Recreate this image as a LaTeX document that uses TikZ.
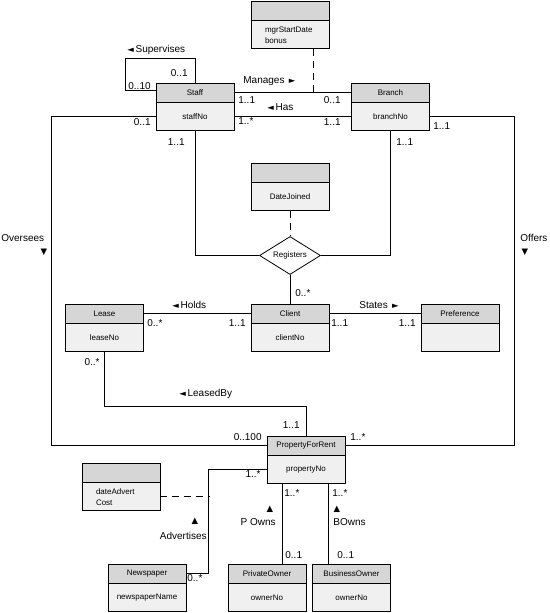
\documentclass[tikz,border=0pt]{standalone}
\usepackage{fontspec}
\setmainfont{Liberation Sans}
\newfontfamily\symfont{DejaVu Sans}
\usetikzlibrary{shapes.geometric}

\definecolor{headfill}{RGB}{214,214,214}
\definecolor{bodyfill}{RGB}{240,240,240}

\newcommand{\tril}{{\symfont\fontsize{8.5}{8}\selectfont ◄}}
\newcommand{\trir}{{\symfont\fontsize{8.5}{8}\selectfont ►}}
\newcommand{\triu}{{\symfont\fontsize{8.5}{8}\selectfont ▲}}
\newcommand{\trid}{{\symfont\fontsize{8.5}{8}\selectfont ▼}}

\tikzset{
    classhead/.style={draw, fill=headfill, minimum width=78pt, minimum height=19pt,
        inner sep=0pt, font=\fontsize{8}{9}\selectfont},
    classbody/.style={draw, fill=bodyfill, minimum width=78pt, minimum height=28pt,
        inner sep=0pt, anchor=north, font=\fontsize{8}{11}\selectfont},
    attrlist/.style={classbody, text width=50pt, align=left},
    mult/.style={inner sep=0pt, font=\fontsize{10}{12}\selectfont},
    assoc/.style={dash pattern=on 7pt off 5pt},
}

\begin{document}
\begin{tikzpicture}[x=1pt, y=-1pt, line width=0.8pt]
    \useasboundingbox (0,0) rectangle (549,613);

    % classes
    \node[classhead] (staff)  at (195,92.5)   {Staff};
    \node[classbody] (staff-a)  at (staff.south)  {staffNo};
    \node[classhead] (branch) at (390.5,92.5) {Branch};
    \node[classbody] (branch-a) at (branch.south) {branchNo};
    \node[classhead] (lease)  at (104.5,313.5) {Lease};
    \node[classbody] (lease-a)  at (lease.south)  {leaseNo};
    \node[classhead] (client) at (290,313.5)  {Client};
    \node[classbody] (client-a) at (client.south) {clientNo};
    \node[classhead] (pref)   at (460,313.5)  {Preference};
    \node[classbody] (pref-a)   at (pref.south)   {};
    \node[classhead] (pfr)    at (306,445.5)  {PropertyForRent};
    \node[classbody] (pfr-a)    at (pfr.south)    {propertyNo};
    \node[classhead] (news)   at (147,573.5)  {Newspaper};
    \node[classbody] (news-a)   at (news.south)   {newspaperName};
    \node[classhead] (powner) at (267,573.5)  {PrivateOwner};
    \node[classbody] (powner-a) at (powner.south) {ownerNo};
    \node[classhead] (bowner) at (351.5,573.5) {BusinessOwner};
    \node[classbody] (bowner-a) at (bowner.south) {ownerNo};

    % association classes
    \node[classhead] (mgr)  at (290,10.5)  {};
    \node[attrlist]  (mgr-a)  at (mgr.south)  {mgrStartDate\\bonus};
    \node[classhead] (date) at (290,172.5) {};
    \node[classbody] (date-a) at (date.south) {DateJoined};
    \node[classhead] (adv)  at (121,472.5) {};
    \node[attrlist]  (adv-a)  at (adv.south)  {dateAdvert\\Cost};

    \node[draw, diamond, aspect=1.6, minimum width=61pt, minimum height=38pt,
        inner sep=1pt, font=\fontsize{8}{9}\selectfont] (reg) at (290,255.5) {Registers};

    % Supervises
    \draw ([yshift=2pt]staff.west) -- ++(-30,0) |- ([yshift=24pt]staff.north) -- (staff.north);
    % Manages, Has
    \draw (staff.east) -- (branch.west);
    \draw[assoc] ([xshift=23pt]mgr-a.south) -- ([xshift=23pt]mgr-a.south |- staff.east);
    \draw (staff-a.east) -- (branch-a.west);
    % Oversees, Offers
    \draw (staff-a.west) -- ++(-104,0) |- (pfr.west);
    \draw (branch-a.east) -- ++(84,0) |- (pfr.east);
    % Registers
    \draw (staff-a.south) |- (reg.west);
    \draw (branch-a.south) |- (reg.east);
    \draw[assoc] (date-a.south) -- (reg.north);
    \draw (reg.south) -- (client.north);
    % Holds, States, LeasedBy
    \draw (lease.east) -- (client.west);
    \draw (client.east) -- (pref.west);
    \draw (lease-a.south) -- ++(0,54) -| (pfr.north);
    % Advertises
    \draw (pfr-a.west) -- ++(-58,0) |- (news.east);
    \draw[assoc] (adv-a.east) -- ++(50,0);
    \draw[line width=1.6pt] ([yshift=-1pt]adv-a.north east) -- ++(0,6);
    % POwns, BOwns
    \draw ([xshift=-24pt]pfr-a.south) -- ([xshift=-24pt]pfr-a.south |- powner.north);
    \draw ([xshift=22pt]pfr-a.south) -- ([xshift=22pt]pfr-a.south |- bowner.north);

    % labels
    \node[mult, anchor=west] (l-sup)  at (127,50)  {\tril\,Supervises};
    \node[mult, anchor=east] (m-sup1) at (188,73)  {0..1};
    \node[mult, anchor=west] (m-sup2) at (128,86)  {0..10};
    \node[mult, anchor=west] (l-mgr)  at (243,81)  {Manages\, \trir};
    \node[mult, anchor=west] (m-mgr1) at (238,100) {1..1};
    \node[mult, anchor=east] (m-mgr2) at (341,100) {0..1};
    \node[mult, anchor=west] (l-has)  at (267,107) {\tril\,Has};
    \node[mult, anchor=west] (m-has1) at (238,121) {1..*};
    \node[mult, anchor=east] (m-has2) at (341,122) {1..1};
    \node[mult, anchor=east] (m-ovs1) at (151,122) {0..1};
    \node[mult, anchor=west] (m-off1) at (433,126) {1..1};
    \node[mult, anchor=east] (m-reg1) at (185,142) {1..1};
    \node[mult, anchor=west] (m-reg2) at (396,142) {1..1};
    \node[mult, anchor=west] (l-ovs)  at (1,238)   {Oversees};
    \node[mult]              (t-ovs)  at (44,252)  {\trid};
    \node[mult, anchor=west] (l-off)  at (520,238) {Offers};
    \node[mult]              (t-off)  at (525,252) {\trid};
    \node[mult, anchor=west] (m-reg3) at (295,293) {0..*};
    \node[mult, anchor=west] (l-hld)  at (172,305) {\tril\,Holds};
    \node[mult, anchor=west] (m-hld1) at (147,323) {0..*};
    \node[mult, anchor=east] (m-hld2) at (246,323) {1..1};
    \node[mult, anchor=west] (l-sta)  at (359,305) {States\, \trir};
    \node[mult, anchor=west] (m-sta1) at (331,323) {1..1};
    \node[mult, anchor=east] (m-sta2) at (416,323) {1..1};
    \node[mult, anchor=east] (m-lsd1) at (100,362) {0..*};
    \node[mult, anchor=west] (l-lsd)  at (179,394) {\tril\,LeasedBy};
    \node[mult, anchor=east] (m-lsd2) at (300,425) {1..1};
    \node[mult, anchor=east] (m-ovs2) at (262,437) {0..100};
    \node[mult, anchor=west] (m-off2) at (350,437) {1..*};
    \node[mult, anchor=east] (m-adv1) at (261,474) {1..*};
    \node[mult]              (t-adv)  at (195,521) {\triu};
    \node[mult, anchor=east] (l-adv)  at (207,536) {Advertises};
    \node[mult, anchor=west] (m-adv2) at (187,578) {0..*};
    \node[mult, anchor=west] (m-pow1) at (284,493) {1..*};
    \node[mult]              (t-pow)  at (270,509) {\triu};
    \node[mult, anchor=east] (l-pow)  at (276,522) {P Owns};
    \node[mult, anchor=west] (m-pow2) at (285,555) {0..1};
    \node[mult, anchor=west] (m-bow1) at (332,493) {1..*};
    \node[mult]              (t-bow)  at (337,509) {\triu};
    \node[mult, anchor=west] (l-bow)  at (333,522) {BOwns};
    \node[mult, anchor=west] (m-bow2) at (337,555) {0..1};
\end{tikzpicture}
\end{document}
